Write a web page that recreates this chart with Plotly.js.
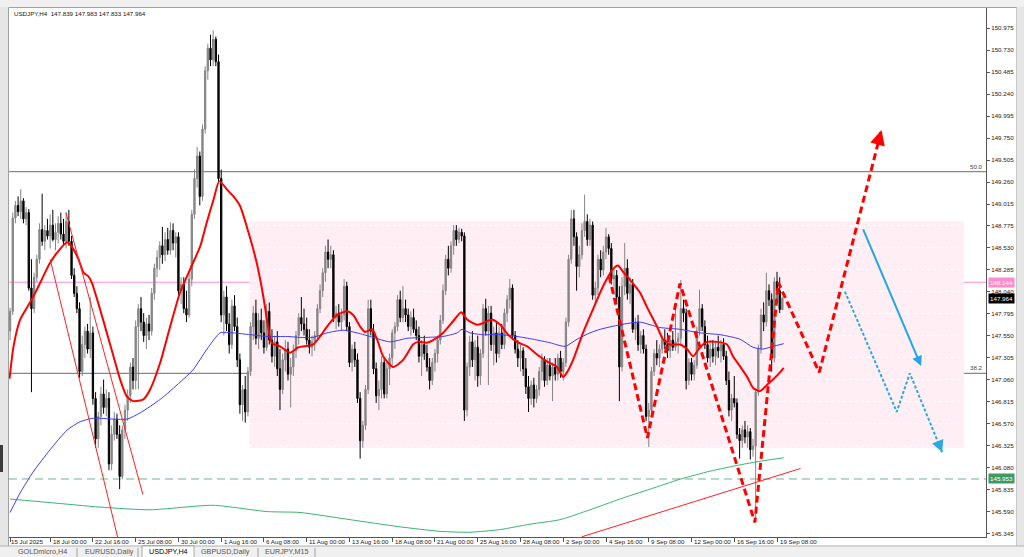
<!DOCTYPE html>
<html>
<head>
<meta charset="utf-8">
<script src="https://cdn.plot.ly/plotly-3.0.1.min.js"></script>
<style>html,body{margin:0;padding:0;background:#fff;}#chart{width:1024px;height:557px;}</style>
</head>
<body>
<div id="chart"></div>
<script>
// ---------------- DATA ----------------
const symbolTitle = "USDJPY,H4\u00a0 147.839 147.983 147.833 147.964";

const openP = [
147.60,147.82,148.86,149.00,148.93,149.05,148.85,148.92,148.08,147.85,
148.20,148.40,148.73,148.60,148.72,148.66,148.78,148.62,148.70,148.80,
148.68,148.60,148.82,148.60,148.22,148.02,147.85,147.15,147.45,147.60,
147.40,147.58,146.85,146.40,146.65,146.90,146.75,146.85,146.12,146.45,
146.62,146.45,145.98,146.50,146.72,146.88,147.20,147.05,147.65,147.85,
147.70,147.55,147.68,147.60,148.02,148.30,148.42,148.55,148.45,148.62,
148.50,148.72,148.58,148.65,148.05,148.12,147.85,147.78,148.18,148.90,
149.30,149.55,149.10,149.85,150.50,150.75,150.62,150.85,150.60,149.30,
147.78,147.98,147.68,147.45,147.88,147.65,147.28,146.78,146.95,146.70,
147.15,147.65,147.80,147.52,147.72,147.58,147.42,147.82,147.50,147.32,
147.48,147.18,146.95,147.28,147.40,147.12,147.20,147.38,147.55,147.75,
147.68,147.62,147.50,147.42,147.48,147.55,147.85,148.05,148.25,148.48,
148.40,148.45,147.75,147.80,147.70,147.78,148.10,147.65,147.25,147.40,
147.28,146.85,146.38,146.55,146.95,147.85,147.60,147.18,146.88,146.95,
147.25,146.90,147.18,147.30,147.58,147.65,147.95,147.75,147.85,147.78,
147.65,147.75,147.62,147.55,147.32,147.45,147.35,147.20,147.05,147.25,
147.35,147.50,147.72,148.05,148.40,148.30,148.55,148.72,148.62,148.70,
148.66,146.72,147.20,147.48,147.28,147.42,147.10,147.35,147.85,147.60,
147.80,147.45,147.58,147.35,147.58,147.45,147.80,147.95,148.08,147.55,
147.40,147.30,147.38,147.18,146.98,146.85,147.00,146.85,146.95,147.15,
147.28,147.05,147.22,147.10,147.20,147.12,147.30,147.15,147.25,147.70,
148.40,148.85,148.65,148.32,148.45,148.72,148.82,148.62,148.78,148.00,
148.08,148.40,148.28,148.48,148.65,148.52,148.18,148.22,147.98,147.20,
148.10,148.30,148.02,148.12,147.62,147.70,147.45,147.55,147.40,146.65,
146.72,147.15,147.35,147.30,147.40,147.50,147.45,147.38,147.50,147.42,
147.48,147.52,147.85,147.80,147.05,147.25,147.12,147.22,147.60,147.85,
147.65,147.45,147.30,147.40,147.32,147.42,147.38,147.45,147.32,147.05,
146.72,146.85,146.80,146.45,146.38,146.50,146.42,146.48,146.28,146.32,
146.92,147.40,147.78,147.70,148.05,147.95,147.30,148.15,148.05,147.839];

const highP = [
147.86,148.92,149.05,149.10,149.18,149.08,148.98,148.96,148.40,148.25,
148.45,148.80,149.13,148.78,148.85,148.90,148.95,148.80,148.88,148.92,
148.85,148.92,148.95,148.66,148.30,148.10,147.92,147.55,147.65,147.68,
147.98,147.65,146.92,146.70,146.98,147.06,146.95,146.92,146.55,146.70,
146.68,146.55,146.55,146.78,146.95,147.25,147.30,147.72,147.90,147.98,
147.80,147.75,147.78,148.08,148.35,148.50,148.60,148.76,148.70,148.75,
148.81,148.80,148.70,148.70,148.20,148.20,148.05,148.25,148.95,149.40,
149.65,149.60,149.90,150.55,150.80,150.90,150.95,150.88,150.68,149.40,
148.05,148.10,147.80,147.95,148.00,147.75,147.35,147.00,147.10,147.20,
147.70,147.88,147.95,147.80,147.85,147.72,147.90,147.92,147.62,147.55,
147.60,147.40,147.35,147.50,147.48,147.30,147.45,147.60,147.80,147.98,
147.85,147.75,147.62,147.55,147.60,147.90,148.12,148.30,148.55,148.62,
148.55,148.50,147.88,147.90,147.85,148.18,148.15,147.70,147.45,147.48,
147.35,146.92,146.60,147.00,147.95,147.95,147.68,147.25,147.05,147.32,
147.30,147.25,147.35,147.62,147.70,148.00,148.05,148.10,147.95,147.85,
147.82,147.85,147.72,147.65,147.50,147.55,147.45,147.30,147.30,147.40,
147.55,147.78,148.12,148.45,148.55,148.60,148.78,148.78,148.75,148.74,
148.70,147.25,147.55,147.60,147.50,147.55,147.40,147.90,147.96,147.88,
147.88,147.65,147.70,147.65,147.68,147.85,148.00,148.18,148.12,147.60,
147.50,147.45,147.42,147.30,147.10,147.05,147.08,147.00,147.20,147.35,
147.32,147.30,147.30,147.25,147.30,147.35,147.38,147.30,147.75,148.45,
148.95,148.95,148.70,148.55,148.80,149.12,148.90,148.85,148.82,148.15,
148.45,148.50,148.55,148.75,148.68,148.58,148.30,148.28,148.10,148.20,
148.58,148.40,148.20,148.18,147.75,147.78,147.60,147.62,147.45,146.80,
147.20,147.40,147.50,147.45,147.55,147.62,147.58,147.55,147.60,147.85,
147.58,148.17,147.95,147.85,147.30,147.30,147.28,147.65,148.06,147.90,
147.72,147.55,147.48,147.50,147.48,147.55,147.50,147.52,147.38,147.15,
146.90,147.10,146.85,146.52,146.55,146.60,146.55,146.52,146.40,146.95,
147.45,147.85,147.92,148.25,148.12,148.02,148.20,148.26,148.20,147.983];

const lowP = [
147.50,147.78,148.80,148.88,148.85,148.80,148.78,148.05,146.92,147.80,
148.15,148.35,148.55,148.50,148.62,148.52,148.60,148.50,148.58,148.62,
148.55,148.52,148.55,148.18,147.98,147.80,147.08,147.10,147.30,147.35,
147.30,146.78,146.30,146.30,146.55,146.68,146.65,146.05,146.05,146.38,
146.40,145.84,145.95,146.40,146.60,146.80,146.95,146.95,146.95,147.60,
147.48,147.40,147.50,147.55,147.95,148.20,148.28,148.35,148.38,148.45,
148.45,148.50,148.42,148.00,147.90,147.80,147.70,147.75,148.10,148.85,
149.20,149.00,149.05,149.80,150.40,150.55,150.55,150.55,149.25,147.70,
147.55,147.60,147.35,147.40,147.60,147.20,146.68,146.60,146.58,146.65,
147.10,147.50,147.45,147.40,147.50,147.35,147.38,147.45,147.25,147.20,
147.10,146.72,146.90,147.15,147.05,146.75,147.10,147.30,147.45,147.60,
147.55,147.45,147.35,147.32,147.38,147.50,147.80,147.98,148.15,148.30,
148.30,147.70,147.62,147.65,147.60,147.72,147.60,147.20,147.15,147.20,
146.80,146.18,146.30,146.50,146.90,147.55,147.12,146.80,146.72,146.85,
146.85,146.85,147.00,147.22,147.40,147.60,147.70,147.70,147.70,147.60,
147.55,147.58,147.50,147.25,147.10,147.28,147.15,146.95,147.00,147.15,
147.25,147.45,147.68,148.00,148.22,148.25,148.45,148.55,148.58,148.60,
146.60,146.65,147.10,147.20,147.05,146.98,147.00,147.30,147.55,147.00,
147.38,147.22,147.25,147.30,147.40,147.40,147.70,147.85,147.50,147.35,
147.20,147.15,147.10,146.90,146.70,146.78,146.75,146.80,146.88,147.05,
146.98,147.00,147.05,146.82,147.05,147.05,147.08,147.05,147.20,147.65,
148.35,148.55,148.05,148.20,148.40,148.65,148.55,148.55,147.95,147.90,
148.00,148.20,148.22,148.40,148.45,148.12,148.00,147.90,146.82,147.15,
148.00,147.95,147.90,147.58,147.50,147.38,147.35,147.35,146.60,146.31,
146.65,147.10,147.22,147.20,147.35,147.40,147.30,147.30,147.38,147.38,
147.35,147.45,147.70,146.95,147.00,147.05,147.05,147.18,147.55,147.60,
147.40,147.25,147.20,147.25,147.22,147.30,147.25,147.28,147.00,146.65,
146.60,146.75,146.40,146.18,146.30,146.35,146.30,146.17,146.20,145.47,
146.88,147.35,147.60,147.65,147.88,147.15,147.25,147.95,147.80,147.833];

const closeP = [
147.82,148.86,149.00,148.93,149.05,148.85,148.92,148.08,147.85,148.20,
148.40,148.73,148.60,148.72,148.66,148.78,148.62,148.70,148.80,148.68,
148.60,148.82,148.60,148.22,148.02,147.85,147.15,147.45,147.60,147.40,
147.58,146.85,146.40,146.65,146.90,146.75,146.85,146.12,146.45,146.62,
146.45,145.98,146.50,146.72,146.88,147.20,147.05,147.65,147.85,147.70,
147.55,147.68,147.60,148.02,148.30,148.42,148.55,148.45,148.62,148.50,
148.72,148.58,148.65,148.05,148.12,147.85,147.78,148.18,148.90,149.30,
149.55,149.10,149.85,150.50,150.75,150.62,150.85,150.60,149.30,147.78,
147.98,147.68,147.45,147.88,147.65,147.28,146.78,146.95,146.70,147.15,
147.65,147.80,147.52,147.72,147.58,147.42,147.82,147.50,147.32,147.48,
147.18,146.95,147.28,147.40,147.12,147.20,147.38,147.55,147.75,147.68,
147.62,147.50,147.42,147.48,147.55,147.85,148.05,148.25,148.48,148.40,
148.45,147.75,147.80,147.70,147.78,148.10,147.65,147.25,147.40,147.28,
146.85,146.38,146.55,146.95,147.85,147.60,147.18,146.88,146.95,147.25,
146.90,147.18,147.30,147.58,147.65,147.95,147.75,147.85,147.78,147.65,
147.75,147.62,147.55,147.32,147.45,147.35,147.20,147.05,147.25,147.35,
147.50,147.72,148.05,148.40,148.30,148.55,148.72,148.62,148.70,148.66,
146.72,147.20,147.48,147.28,147.42,147.10,147.35,147.85,147.60,147.80,
147.45,147.58,147.35,147.58,147.45,147.80,147.95,148.08,147.55,147.40,
147.30,147.38,147.18,146.98,146.85,147.00,146.85,146.95,147.15,147.28,
147.05,147.22,147.10,147.20,147.12,147.30,147.15,147.25,147.70,148.40,
148.85,148.65,148.32,148.45,148.72,148.82,148.62,148.78,148.00,148.08,
148.40,148.28,148.48,148.65,148.52,148.18,148.22,147.98,147.20,148.10,
148.30,148.02,148.12,147.62,147.70,147.45,147.55,147.40,146.65,146.72,
147.15,147.35,147.30,147.40,147.50,147.45,147.38,147.50,147.42,147.48,
147.52,147.85,147.80,147.05,147.25,147.12,147.22,147.60,147.85,147.65,
147.45,147.30,147.40,147.32,147.42,147.38,147.45,147.32,147.05,146.72,
146.85,146.80,146.45,146.38,146.50,146.42,146.48,146.28,146.32,146.92,
147.40,147.78,147.70,148.05,147.95,147.30,148.15,148.05,147.84,147.964];

// moving averages (bar index, price)
const redMaX = [0.8,2.3,4.8,8.5,11,13.4,16,18.5,22.3,24.1,26.6,28.5,30.3,31.6,34.7,37.2,39.7,42.2,44.7,47.2,50.9,53.4,57.2,60.9,64.6,68.4,72.1,74.6,77.1,79.3,82.1,84.6,87.1,90.2,93.3,95.8,97.7,98.9,102,105.8,108.9,114.4,117,119.6,123.4,127.1,129.4,132,133.8,136.5,138.3,140.6,144.3,148.1,151.8,153.7,157,159.3,163,166.8,169.8,172,175.8,178,181.4,184.4,187.4,190.7,194.5,198.2,202,205.7,207.9,209.4,211.7,215.4,219.1,222.9,226.6,228.5,230.4,233,236.7,239.3,243.1,245.3,248,251.7,254.3,256.6,259.2,261.8,265.5,269.3,271.5,274.1,276.8,279,281.6,284.2,286.5,289.1,290.5];
const redMaY = [147.07,147.43,147.73,147.92,148.06,148.21,148.36,148.47,148.59,148.54,148.40,148.25,148.21,148.14,147.84,147.58,147.32,147.06,146.87,146.82,146.84,146.95,147.25,147.65,148.03,148.29,148.54,148.81,149.06,149.27,149.18,149.10,148.99,148.70,148.36,147.98,147.62,147.47,147.43,147.36,147.42,147.45,147.54,147.65,147.78,147.82,147.78,147.65,147.59,147.62,147.51,147.32,147.20,147.28,147.45,147.48,147.47,147.50,147.58,147.71,147.81,147.73,147.67,147.69,147.73,147.67,147.56,147.48,147.43,147.34,147.26,147.20,147.09,147.14,147.28,147.58,147.84,148.10,148.29,148.33,148.26,148.17,148.03,147.87,147.65,147.51,147.45,147.45,147.40,147.32,147.42,147.48,147.48,147.45,147.32,147.21,147.09,146.97,146.93,147.00,147.06,147.14,147.19];
const blueMaX = [1,4.8,9.6,16,22.4,27.2,32.1,39.6,44.8,49.7,57.2,64.6,69.5,74.7,79.6,84.5,90.8,97.2,104.7,109.5,114.4,119.6,125.6,130.9,136.8,143.2,149.6,157,163,168.3,170.1,173.1,178,184.4,190.7,196.7,203.1,208.7,213.2,218,221.8,229.2,236.7,244.2,251.7,259.2,266.7,274.1,279,282.7,286.5,290.5];
const blueMaY = [145.58,145.80,146.03,146.28,146.50,146.59,146.63,146.62,146.62,146.69,146.84,147.03,147.17,147.40,147.58,147.58,147.56,147.54,147.54,147.53,147.53,147.58,147.61,147.58,147.53,147.48,147.52,147.53,147.54,147.58,147.62,147.58,147.56,147.56,147.54,147.51,147.47,147.43,147.51,147.58,147.62,147.67,147.70,147.64,147.62,147.58,147.56,147.51,147.42,147.40,147.43,147.46];
const greenMaX = [1,16,34.7,53.4,77,97.2,109.5,128.2,147,161.9,173.1,184.4,195.6,206.8,218,229.2,240.5,251.7,262.9,274.1,281.6,290.5];
const greenMaY = [145.73,145.69,145.64,145.61,145.66,145.59,145.58,145.50,145.42,145.37,145.36,145.39,145.45,145.50,145.61,145.73,145.84,145.95,146.04,146.11,146.15,146.19];

// drawings (bar index, price)
const zigX = [225.2,239.5,251.7,279.7,288.5,303.8,327.1];
const zigY = [148.21,146.41,148.13,145.47,148.14,147.14,149.84];
const blueDotX = [313.4,332.8,337.7,349.8];
const blueDotY = [148.04,146.70,147.13,146.25];
const blueArrowX = [320.0,341.9];
const blueArrowY = [148.75,147.21];
const chan1X = [21.9,50.7], chan1Y = [148.92,145.78];
const chan2X = [16.0,41.3], chan2Y = [148.40,145.30];
const riseX = [215.0,296.8], riseY = [145.31,146.07];
const rectX = [90.6,358.0], rectY = [146.30,148.82];

const fibLevels = [149.375,147.13];
const fibLabels = ["50.0","38.2"];
const pinkLevel = 148.144;
const greenLevel = 145.953;
const lastPrice = 147.964;

const yTickVals = [150.975,150.730,150.485,150.240,149.995,149.750,149.505,149.260,149.015,148.775,148.530,148.285,148.040,147.795,147.550,147.305,147.060,146.815,146.570,146.325,146.080,145.835,145.590,145.345];
const xLabelIdx = [1,16,32,48,64,80,96,112,128,144,160,176,192,208,224,240,256,272,288];
const xLabelText = ["15 Jul 2025","18 Jul 00:00","22 Jul 16:00","25 Jul 08:00","30 Jul 00:00","1 Aug 16:00","6 Aug 08:00","11 Aug 00:00","13 Aug 16:00","18 Aug 08:00","21 Aug 00:00","25 Aug 16:00","28 Aug 08:00","2 Sep 00:00","4 Sep 16:00","9 Sep 08:00","12 Sep 00:00","16 Sep 16:00","19 Sep 08:00"];
const tabNames = ["GOLDmicro,H4","EURUSD,Daily","USDJPY,H4","GBPUSD,Daily","EURJPY,M15"];

// ---------------- LAYOUT HELPERS ----------------
const ML = 9, MT = 8, PW = 977, PH = 529;
const xp = px => (px - ML) / PW;
const yp = py => 1 - (py - MT) / PH;
const FONT = 'Liberation Sans, Arial, sans-serif';
const FS = 6.2;

const barIdx = closeP.map((_, i) => i + 1);

const traces = [
  {type:'candlestick', x:barIdx, open:openP, high:highP, low:lowP, close:closeP,
   increasing:{line:{color:'#858585', width:1}, fillcolor:'#8a8a8a'},
   decreasing:{line:{color:'#000000', width:1}, fillcolor:'#000000'},
   whiskerwidth:0, hoverinfo:'skip'},
  {type:'scatter', mode:'lines', x:greenMaX, y:greenMaY, line:{color:'#3cb371', width:1, shape:'spline', smoothing:0.6}, hoverinfo:'skip'},
  {type:'scatter', mode:'lines', x:blueMaX, y:blueMaY, line:{color:'#3b3bff', width:1, shape:'spline', smoothing:0.6}, hoverinfo:'skip'},
  {type:'scatter', mode:'lines', x:redMaX, y:redMaY, line:{color:'#ff0000', width:2, shape:'spline', smoothing:0.6}, hoverinfo:'skip'},
  {type:'scatter', mode:'lines', x:chan1X, y:chan1Y, line:{color:'#ff2020', width:1}, hoverinfo:'skip'},
  {type:'scatter', mode:'lines', x:chan2X, y:chan2Y, line:{color:'#ff2020', width:1}, hoverinfo:'skip'},
  {type:'scatter', mode:'lines', x:riseX, y:riseY, line:{color:'#ff2020', width:1}, hoverinfo:'skip'},
  {type:'scatter', mode:'lines', x:blueDotX, y:blueDotY, line:{color:'#2aa8e8', width:2, dash:'3px,2px'}, hoverinfo:'skip'},
  {type:'scatter', mode:'lines', x:zigX, y:zigY, line:{color:'#ff0000', width:3, dash:'7px,4px'}, hoverinfo:'skip'}
];

const shapes = [];
shapes.push({type:'rect', xref:'x', yref:'y', x0:rectX[0], x1:rectX[1], y0:rectY[0], y1:rectY[1], fillcolor:'#ffeef4', line:{width:0}, layer:'below'});
fibLevels.forEach(v => shapes.push({type:'line', xref:'paper', yref:'y', x0:0, x1:1, y0:v, y1:v, line:{color:'#6a6a6a', width:1}, layer:'below'}));
shapes.push({type:'line', xref:'paper', yref:'y', x0:0, x1:1, y0:pinkLevel, y1:pinkLevel, line:{color:'#ff8ccb', width:1}, layer:'below'});
shapes.push({type:'line', xref:'paper', yref:'y', x0:0, x1:1, y0:greenLevel, y1:greenLevel, line:{color:'#6fb48c', width:1, dash:'8px,5px'}, layer:'below'});

const chrome = (x0,x1,y0,y1,fill,lc) => shapes.push({type:'rect', xref:'paper', yref:'paper', x0:xp(x0), x1:xp(x1), y0:yp(y1), y1:yp(y0), fillcolor:fill, line:{width:lc?1:0, color:lc||'#000'}, layer:'above'});
chrome(0,1024,0,7,'#f0f0f0');
chrome(0,8.5,7,546,'#e6e6e6');
chrome(1017,1024,7,546,'#e6e6e6');
chrome(0,1024,546,557,'#f0f0f0');
chrome(142,194,545.5,560,'#ffffff','#a8a8a8');
chrome(0,3,445,472,'#3a3a3a');
const chromeLine = (x0,y0,x1,y1,c) => shapes.push({type:'line', xref:'paper', yref:'paper', x0:xp(x0), x1:xp(x1), y0:yp(y0), y1:yp(y1), line:{color:c, width:1}, layer:'above'});
chromeLine(8.5,7.5,1017,7.5,'#a0a0a0');
chromeLine(8.5,7.5,8.5,546,'#a0a0a0');
chromeLine(1016.5,7.5,1016.5,546,'#c8c8c8');
chromeLine(0,546,1024,546,'#b0b0b0');
[77,138,258,315].forEach(x => chromeLine(x,548,x,557,'#a0a0a0'));

const annotations = [];
annotations.push({xref:'paper', yref:'paper', x:xp(12), y:yp(13.5), xanchor:'left', yanchor:'middle', text:symbolTitle, showarrow:false, font:{family:FONT, size:FS, color:'#111'}});
xLabelIdx.forEach((k,i) => annotations.push({xref:'x', yref:'paper', x:k, y:yp(541.5), xanchor:'left', yanchor:'middle', xshift:(i===0?-1:0.5), text:xLabelText[i], showarrow:false, font:{family:FONT, size:FS, color:'#222'}}));
fibLevels.forEach((v,i) => annotations.push({xref:'paper', yref:'y', x:1, y:v, xanchor:'right', yanchor:'bottom', xshift:-1, text:fibLabels[i], showarrow:false, font:{family:FONT, size:FS, color:'#444'}}));
const box = (v,bg) => annotations.push({xref:'paper', yref:'y', x:1, y:v, xanchor:'left', yanchor:'middle', xshift:1.5, text:v.toFixed(3), bgcolor:bg, borderpad:1, showarrow:false, font:{family:FONT, size:FS, color:'#ffffff'}});
box(pinkLevel,'#ff8ccb');
box(greenLevel,'#3e9a62');
box(lastPrice,'#000000');
annotations.push({xref:'x', yref:'y', x:blueArrowX[1], y:blueArrowY[1], axref:'x', ayref:'y', ax:blueArrowX[0], ay:blueArrowY[0], showarrow:true, arrowhead:2, arrowsize:1, arrowwidth:2, arrowcolor:'#22a6e6', text:''});
annotations.push({xref:'x', yref:'y', x:zigX[zigX.length-1], y:zigY[zigY.length-1], ax:-3, ay:11, showarrow:true, arrowhead:2, arrowsize:1.2, arrowwidth:2.5, arrowcolor:'#ff0000', text:''});
annotations.push({xref:'x', yref:'y', x:blueDotX[blueDotX.length-1], y:blueDotY[blueDotY.length-1], ax:-4, ay:-10, showarrow:true, arrowhead:2, arrowsize:1.2, arrowwidth:2, arrowcolor:'#2aa8e8', text:''});
const tabCenters = [42,109,168,225,286];
tabNames.forEach((t,i) => annotations.push({xref:'paper', yref:'paper', x:xp(tabCenters[i]), y:yp(551.5), xanchor:'center', yanchor:'middle', text:t, showarrow:false, font:{family:FONT, size:7.2, color:i===2?'#000':'#555'}}));

const layout = {
  width:1024, height:557,
  margin:{l:ML, r:1024-ML-PW, t:MT, b:557-MT-PH, pad:0},
  paper_bgcolor:'#ffffff', plot_bgcolor:'#ffffff',
  showlegend:false,
  font:{family:FONT, size:FS, color:'#222'},
  xaxis:{range:[0.6,366.2], showgrid:false, zeroline:false, showline:true, linecolor:'#555', linewidth:1,
         ticks:'outside', ticklen:4, tickcolor:'#555', tickvals:xLabelIdx, showticklabels:false,
         rangeslider:{visible:false}, fixedrange:true},
  yaxis:{side:'right', range:[145.307,151.198], tickvals:yTickVals, ticktext:yTickVals.map(v=>v.toFixed(3)),
         ticks:'outside', ticklen:3, tickcolor:'#555', showline:true, linecolor:'#555', linewidth:1,
         showgrid:true, gridcolor:'#ffffff', griddash:'dot', gridwidth:1, zeroline:false,
         tickfont:{family:FONT, size:FS, color:'#222'}, fixedrange:true},
  shapes:shapes, annotations:annotations
};

Plotly.newPlot('chart', traces, layout, {staticPlot:true, displayModeBar:false});
</script>
</body>
</html>
